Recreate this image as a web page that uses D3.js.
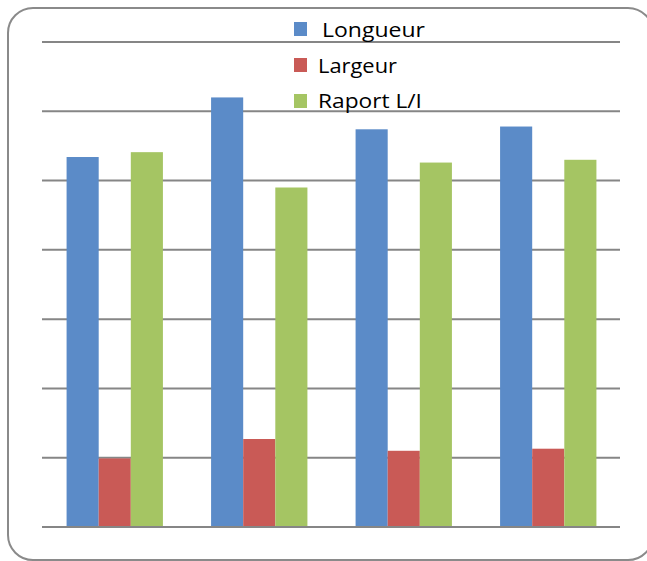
<!DOCTYPE html>
<html>
<head>
<meta charset="utf-8">
<script src="https://cdn.jsdelivr.net/npm/d3@7"></script>
<style>
  html, body { margin: 0; padding: 0; background: #fff; }
  svg { display: block; }
</style>
</head>
<body>
<svg id="chart" width="647" height="561"></svg>
<script>
const categories = ["1", "2", "3", "4"];
const seriesNames = ["Longueur", "Largeur", "Raport L/I"];
const longueur = [5.34, 6.20, 5.74, 5.78];
const largeur = [0.99, 1.27, 1.10, 1.13];
const rapport = [5.41, 4.90, 5.26, 5.30];
const yTicks = [0, 1, 2, 3, 4, 5, 6, 7];
const fills = ["#5B8BC8", "#C95A56", "#A5C563"];

const series = [longueur, largeur, rapport];

const svg = d3.select("#chart");
const margin = { left: 42, right: 27, top: 42, bottom: 34 };
const W = 647, H = 561;

// outer rounded border
svg.append("rect")
  .attr("x", 8).attr("y", 8)
  .attr("width", 645).attr("height", 552)
  .attr("rx", 25).attr("ry", 25)
  .attr("fill", "#fff")
  .attr("stroke", "#8a8a8a")
  .attr("stroke-width", 2);

// Excel-style gap width 150%: each group = 3 bars, gap = 1.5 bars
const x0 = d3.scaleBand()
  .domain(categories)
  .range([margin.left, W - margin.right]);
const bandW = x0.bandwidth();
const barW = bandW / 4.5;
const x1 = d3.scaleBand()
  .domain(d3.range(series.length))
  .range([0, barW * 3]);

const y = d3.scaleLinear()
  .domain([0, 7])
  .range([H - margin.bottom, margin.top]);

// gridlines
svg.append("g")
  .selectAll("line")
  .data(yTicks)
  .join("line")
  .attr("x1", margin.left)
  .attr("x2", W - margin.right)
  .attr("y1", d => y(d))
  .attr("y2", d => y(d))
  .attr("stroke", "#868686")
  .attr("stroke-width", 2);

// bars
const groups = svg.append("g")
  .selectAll("g")
  .data(categories)
  .join("g")
  .attr("transform", d => `translate(${x0(d) + barW * 0.75 + 0.5},0)`);

groups.selectAll("rect")
  .data((d, i) => series.map((s, k) => ({ k, v: s[i] })))
  .join("rect")
  .attr("x", d => x1(d.k))
  .attr("width", x1.bandwidth())
  .attr("y", d => y(d.v))
  .attr("height", d => y(0) - y(d.v) - 1)
  .attr("fill", d => fills[d.k]);

// legend
const legend = svg.append("g");
const legY = [22, 58, 94];
const legTextX = [322, 318, 318];
const legBase = [36.7, 73.3, 108.3];
const legW = [103, 79, 104];
legend.selectAll("rect")
  .data(seriesNames)
  .join("rect")
  .attr("x", 294)
  .attr("y", (d, i) => legY[i])
  .attr("width", 13)
  .attr("height", 14)
  .attr("fill", (d, i) => fills[i]);
legend.selectAll("text")
  .data(seriesNames)
  .join("text")
  .attr("font-family", "'Open Sans', sans-serif")
  .attr("font-size", 20.5)
  .attr("fill", "#000")
  .text(d => d)
  .each(function (d, i) {
    const w = this.getComputedTextLength();
    const s = legW[i] / w;
    d3.select(this).attr("transform", `translate(${legTextX[i]},${legBase[i]}) scale(${s},1)`);
  });
</script>
</body>
</html>
